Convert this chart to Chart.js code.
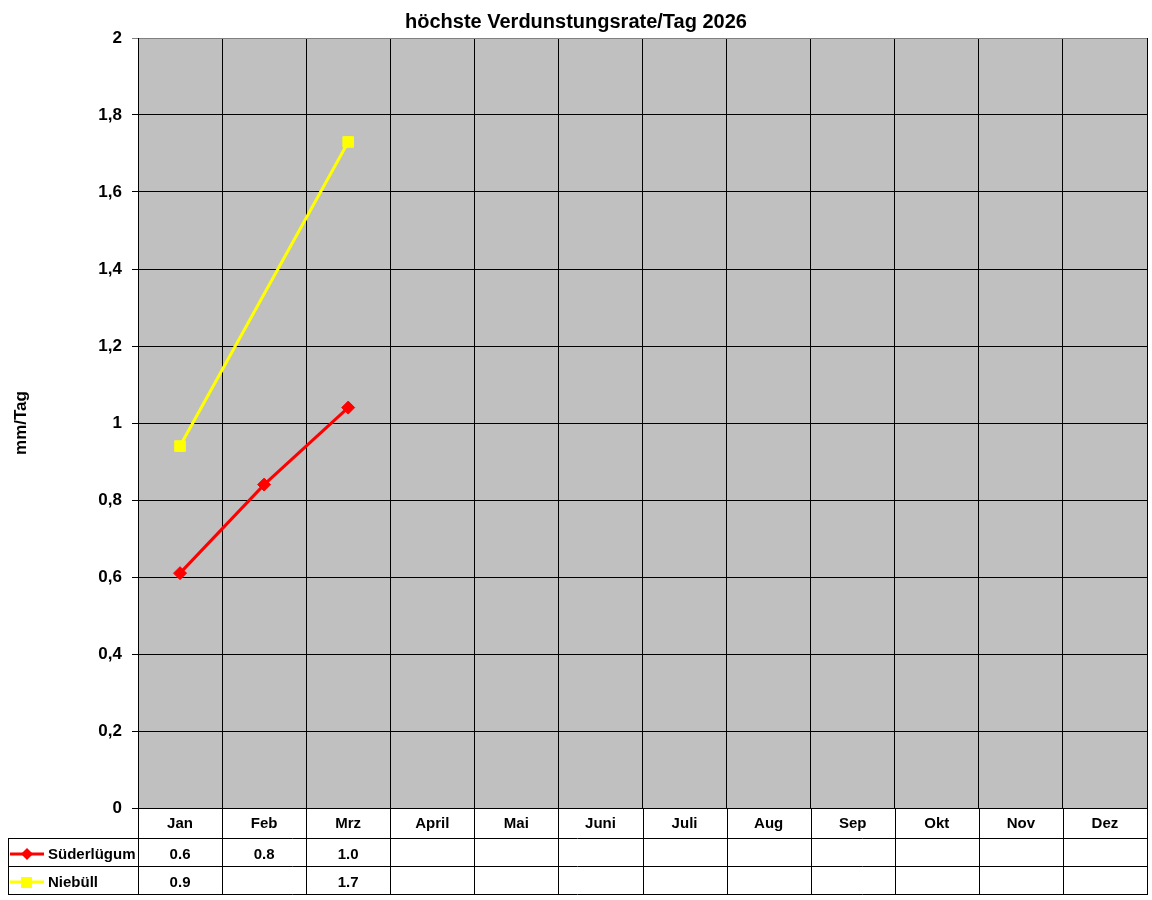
<!DOCTYPE html>
<html>
<head>
<meta charset="utf-8">
<script src="https://cdn.jsdelivr.net/npm/chart.js@4"></script>
<style>
  html, body { margin: 0; padding: 0; background: #fff; }
  canvas { display: block; }
</style>
</head>
<body>
<canvas id="chart" width="1152" height="900"></canvas>
<script>
// Daten
const monate = ["Jan", "Feb", "Mrz", "April", "Mai", "Juni", "Juli", "Aug", "Sep", "Okt", "Nov", "Dez"];
const suederluegum = [0.61, 0.84, 1.04, null, null, null, null, null, null, null, null, null];
const niebuell = [0.94, null, 1.73, null, null, null, null, null, null, null, null, null];
const yMin = 0, yMax = 2, yStep = 0.2;

const fontFam = "'Liberation Sans', Arial, sans-serif";

document.addEventListener("DOMContentLoaded", () => {
    const ctx = document.getElementById("chart").getContext("2d");

    // grauer Hintergrund der Zeichenfläche
    const hintergrund = {
        id: "hintergrund",
        beforeDraw(chart) {
            const a = chart.chartArea;
            const c = chart.ctx;
            c.save();
            c.fillStyle = "#c0c0c0";
            c.fillRect(a.left, a.top, a.right - a.left, a.bottom - a.top);
            c.restore();
        }
    };

    // Titel, Achsentitel und Datentabelle
    const tabelle = {
        id: "tabelle",
        afterDraw(chart) {
            const c = chart.ctx;
            const a = chart.chartArea;
            const xs = chart.scales.x;
            const rowTop = [a.bottom, 838, 866, 894];
            const tabLeft = 8;

            c.save();
            // Titel
            c.fillStyle = "#000";
            c.font = "bold 20px " + fontFam;
            c.textAlign = "center";
            c.textBaseline = "middle";
            c.fillText("höchste Verdunstungsrate/Tag 2026", 576, 22);

            // y-Achsentitel
            c.save();
            c.translate(21, 423);
            c.rotate(-Math.PI / 2);
            c.font = "bold 17px " + fontFam;
            c.fillText("mm/Tag", 0, 0);
            c.restore();

            // Tabellenlinien
            c.strokeStyle = "#000";
            c.lineWidth = 1;
            c.beginPath();
            c.moveTo(tabLeft, rowTop[1] + 0.5); c.lineTo(a.right, rowTop[1] + 0.5);
            c.moveTo(tabLeft, rowTop[2] + 0.5); c.lineTo(a.right, rowTop[2] + 0.5);
            c.moveTo(tabLeft, rowTop[3] + 0.5); c.lineTo(a.right, rowTop[3] + 0.5);
            c.moveTo(tabLeft + 0.5, rowTop[1]); c.lineTo(tabLeft + 0.5, rowTop[3] + 1);
            for (let i = 0; i <= monate.length; i++) {
                const x = Math.round(i < monate.length ? xs.getPixelForValue(i) - xs.width / monate.length / 2 : a.right) + 0.5;
                c.moveTo(x, a.bottom); c.lineTo(x, rowTop[3] + 1);
            }
            c.stroke();

            // Monatsnamen
            c.font = "bold 15px " + fontFam;
            c.textAlign = "center";
            c.textBaseline = "middle";
            monate.forEach((m, i) => {
                c.fillText(m, xs.getPixelForValue(i), (rowTop[0] + rowTop[1]) / 2 + 1);
            });

            // Werte und Legende
            chart.data.datasets.forEach((ds, r) => {
                const yMid = (rowTop[r + 1] + rowTop[r + 2]) / 2 + 3;
                ds.data.forEach((v, i) => {
                    if (v === null) return;
                    c.textAlign = "center";
                    c.fillStyle = "#000";
                    c.fillText(v.toFixed(1), xs.getPixelForValue(i), yMid);
                });
                // Legendensymbol
                const ly = yMid - 1;
                c.strokeStyle = ds.borderColor;
                c.lineWidth = 3;
                c.beginPath();
                c.moveTo(10, ly); c.lineTo(44, ly);
                c.stroke();
                c.fillStyle = ds.borderColor;
                if (ds.pointStyle === "rectRot") {
                    c.beginPath();
                    c.moveTo(27, ly - 6); c.lineTo(33, ly);
                    c.lineTo(27, ly + 6); c.lineTo(21, ly);
                    c.closePath(); c.fill();
                } else {
                    c.fillRect(21, ly - 5, 11, 11);
                }
                c.fillStyle = "#000";
                c.textAlign = "left";
                c.fillText(ds.label, 48, yMid);
            });
            c.restore();
        }
    };

    new Chart(ctx, {
        type: "line",
        data: {
            labels: monate,
            datasets: [{
                label: "Süderlügum",
                data: suederluegum,
                borderColor: "#ff0000",
                backgroundColor: "#ff0000",
                borderWidth: 3,
                pointStyle: "rectRot",
                pointRadius: 6.5,
                pointBorderWidth: 1,
                tension: 0,
                spanGaps: true
            }, {
                label: "Niebüll",
                data: niebuell,
                borderColor: "#ffff00",
                backgroundColor: "#ffff00",
                borderWidth: 3,
                pointStyle: "rect",
                pointRadius: 7.5,
                pointBorderWidth: 1,
                tension: 0,
                spanGaps: true
            }]
        },
        options: {
            responsive: false,
            animation: false,
            devicePixelRatio: 1,
            layout: { autoPadding: false, padding: { top: 38, right: 5, left: 0, bottom: 0 } },
            plugins: {
                legend: { display: false },
                title: { display: false },
                tooltip: { enabled: false }
            },
            scales: {
                x: {
                    offset: true,
                    ticks: { display: false },
                    grid: { color: "#000", lineWidth: 1, drawTicks: false, offset: true },
                    border: { color: "#000" },
                    afterFit(scale) {
                        scale.height = 92;
                        scale.paddingLeft = 0;
                        scale.paddingRight = 0;
                    }
                },
                y: {
                    min: yMin,
                    max: yMax,
                    ticks: {
                        stepSize: yStep,
                        color: "#000",
                        font: { family: fontFam, size: 17, weight: "bold" },
                        padding: 10,
                        callback: v => String(Number(v.toFixed(1))).replace(".", ",")
                    },
                    grid: {
                        color: c => c.tick && c.tick.value === yMax ? "#808080" : "#000",
                        lineWidth: 1,
                        tickLength: 6
                    },
                    border: { color: "#000" },
                    afterFit(scale) {
                        scale.width = 138;
                        scale.paddingTop = 0;
                        scale.paddingBottom = 0;
                    }
                }
            }
        },
        plugins: [hintergrund, tabelle]
    });
});
</script>
</body>
</html>
